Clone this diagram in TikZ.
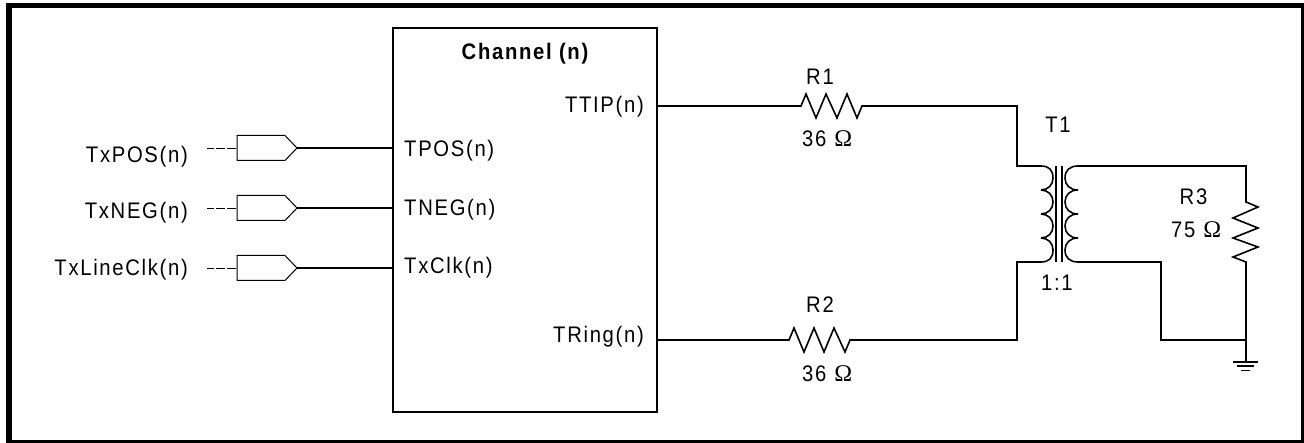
\documentclass[tikz,border=0pt]{standalone}
\usepackage{fontspec}
\setmainfont[LetterSpace=7.5,FakeStretch=0.9]{Liberation Sans}
\newfontfamily\omfont{Liberation Serif}
\newcommand{\ohm}{{\omfont\fontsize{24}{24}\selectfont\char"03A9}}
\tikzset{
  wire/.style={line width=1.6pt,line join=miter},
  lbl/.style={inner sep=0pt,font=\fontsize{22.5}{24}\selectfont},
  pin/.style={inner sep=0pt,font=\fontsize{22.5}{24}\selectfont},
  bufbox/.style={line width=1pt},
}
\begin{document}
\begin{tikzpicture}[x=1pt,y=-1pt]
\useasboundingbox (0,0) rectangle (1304,443);
\fill (6,3) rectangle (1304,443);
\fill[white] (12,8.5) rectangle (1301,440);
% channel block
\draw[line width=1.8pt] (393,28) rectangle (657,412);
\node[pin,anchor=base,font=\bfseries\fontsize{22.5}{24}\selectfont] (chan) at (525,59.5) {Channel (n)};
\node[pin,anchor=base west] (tpos) at (404,157) {TPOS(n)};
\node[pin,anchor=base west] (tneg) at (404,216) {TNEG(n)};
\node[pin,anchor=base west] (tclk) at (404,274) {TxClk(n)};
\node[pin,anchor=base east] (ttip) at (644,113) {TTIP(n)};
\node[pin,anchor=base east] (tring) at (644,343) {TRing(n)};
% inputs
\foreach \y/\b/\txt/\nm in {148/163/TxPOS(n)/a,208/219/TxNEG(n)/b,268/276/TxLineClk(n)/c}{
  \node[lbl,anchor=base east] (l\nm) at (188,\b) {\txt};
  \coordinate (ds\nm) at (207,\y);
  \coordinate (bi\nm) at (237,\y);
  \coordinate (tip\nm) at (297,\y);
  \coordinate (pi\nm) at (393,\y);
  \draw[line width=0.8pt,dash pattern=on 7pt off 2pt on 9pt off 2pt on 9pt off 1pt] (ds\nm) -- (bi\nm);
  \draw[bufbox] (237,\y-12.5) -- (285,\y-12.5) -- (tip\nm) -- (285,\y+12.5) -- (237,\y+12.5) -- cycle;
  \draw[wire] (tip\nm) -- (pi\nm);
}
% R1
\coordinate (ta) at (657,106);
\coordinate (pt) at (1017,166);
\draw[wire] (ta) -- (801,106) -- (806,94) -- (816,118) -- (826,94) -- (837,118) -- (847,94) -- (857,118) -- (862,106) -- (1017,106) -- (pt) -- (1041,166);
\node[lbl,anchor=base] (r1) at (820,85) {R1};
\node[lbl,anchor=base west] (r1v) at (802,147) {36\hspace{8pt}\ohm};
% R2
\coordinate (tb) at (657,340);
\coordinate (pb) at (1017,262);
\draw[wire] (tb) -- (789,340) -- (794,328) -- (804,352) -- (814,328) -- (824,352) -- (834,328) -- (845,352) -- (850,340) -- (1017,340) -- (pb) -- (1041,262);
\node[lbl,anchor=base] (r2) at (820,313) {R2};
\node[lbl,anchor=base west] (r2v) at (802,382) {36\hspace{8pt}\ohm};
% transformer
\node[lbl,anchor=base] (t1) at (1058,133) {T1};
\node[lbl,anchor=base] (ratio) at (1057,291) {1:1};
\draw[wire] (1041,166) .. controls (1049,166) and (1053,170) .. (1053,178) .. controls (1053,185) and (1048,190) .. (1041,190)
  (1041,190) .. controls (1048,190) and (1053,195) .. (1053,202) .. controls (1053,209) and (1048,214) .. (1041,214)
  (1041,214) .. controls (1048,214) and (1053,219) .. (1053,226) .. controls (1053,233) and (1048,238) .. (1041,238)
  (1041,238) .. controls (1048,238) and (1053,243) .. (1053,250) .. controls (1053,258) and (1049,262) .. (1041,262);
\draw[wire] (1078,166) .. controls (1070,166) and (1065,170) .. (1065,178) .. controls (1065,185) and (1070,190) .. (1078,190)
  (1078,190) .. controls (1070,190) and (1065,195) .. (1065,202) .. controls (1065,209) and (1070,214) .. (1078,214)
  (1078,214) .. controls (1070,214) and (1065,219) .. (1065,226) .. controls (1065,233) and (1070,238) .. (1078,238)
  (1078,238) .. controls (1070,238) and (1065,243) .. (1065,250) .. controls (1065,258) and (1070,262) .. (1078,262);
\draw[wire] (1056,166) -- (1056,262) (1062,166) -- (1062,262);
% secondary
\coordinate (gj) at (1246,340);
\draw[wire] (1078,166) -- (1246,166) -- (1246,202) -- (1258,207) -- (1233,218) -- (1258,228) -- (1233,238) -- (1258,247) -- (1233,257) -- (1246,262) -- (gj);
\draw[wire] (1078,262) -- (1161,262) -- (1161,340) -- (gj) -- (1246,362);
\draw[wire] (1233,362) -- (1258,362);
\draw[line width=1.4pt] (1237,366) -- (1254,366) (1241,370.5) -- (1250,370.5);
\node[lbl,anchor=base] (r3) at (1193.5,205) {R3};
\node[lbl,anchor=base west] (r3v) at (1171,238) {75\hspace{8pt}\ohm};
\end{tikzpicture}
\end{document}
